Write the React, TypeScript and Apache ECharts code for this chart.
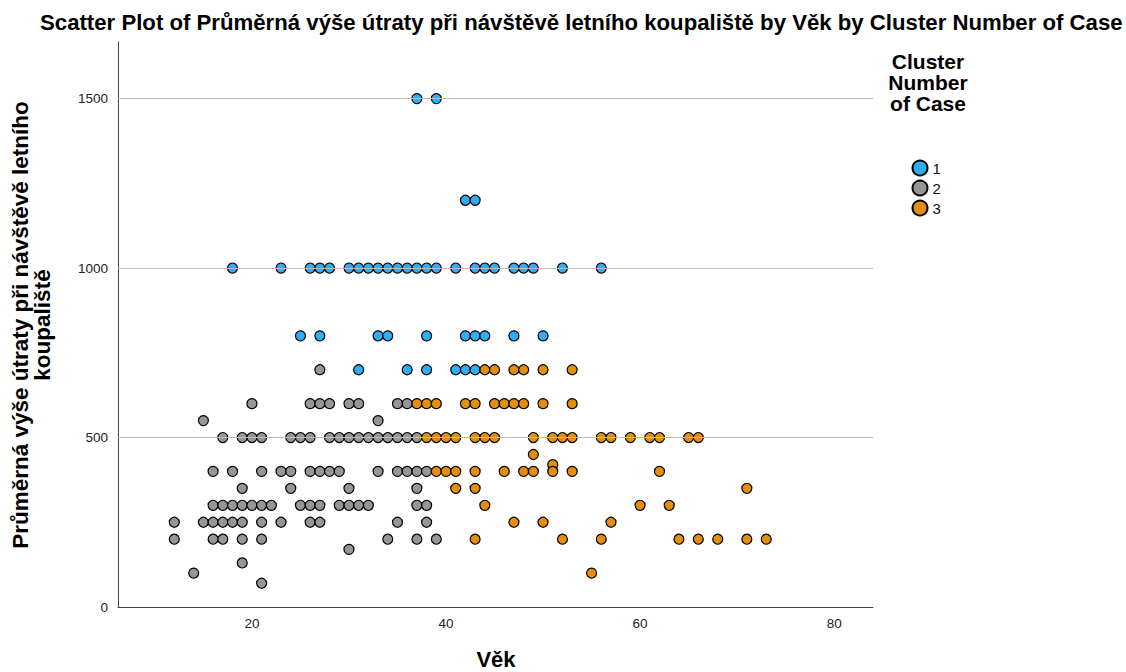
import React, { useEffect, useRef } from "react";
import * as echarts from "echarts";

// Cluster 1 (blue): [age, spending]
const cluster1: [number, number][] = [
  [37, 1500], [39, 1500],
  [42, 1200], [43, 1200],
  [18, 1000], [23, 1000], [26, 1000], [27, 1000], [28, 1000], [30, 1000], [31, 1000], [32, 1000],
  [33, 1000], [34, 1000], [35, 1000], [36, 1000], [37, 1000], [38, 1000], [39, 1000], [41, 1000],
  [43, 1000], [44, 1000], [45, 1000], [47, 1000], [48, 1000], [49, 1000], [52, 1000], [56, 1000],
  [25, 800], [27, 800], [33, 800], [34, 800], [38, 800], [42, 800], [43, 800], [44, 800], [47, 800], [50, 800],
  [31, 700], [36, 700], [38, 700], [41, 700], [42, 700], [43, 700],
];

// Cluster 2 (grey)
const cluster2: [number, number][] = [
  [27, 700],
  [20, 600], [26, 600], [27, 600], [28, 600], [30, 600], [31, 600], [35, 600], [36, 600],
  [15, 550], [33, 550],
  [17, 500], [19, 500], [20, 500], [21, 500], [24, 500], [25, 500], [26, 500], [28, 500], [29, 500],
  [30, 500], [31, 500], [32, 500], [33, 500], [34, 500], [35, 500], [36, 500], [37, 500],
  [16, 400], [18, 400], [21, 400], [23, 400], [24, 400], [26, 400], [27, 400], [28, 400], [29, 400],
  [33, 400], [35, 400], [36, 400], [37, 400], [38, 400],
  [19, 350], [24, 350], [30, 350], [37, 350],
  [16, 300], [17, 300], [18, 300], [19, 300], [20, 300], [21, 300], [22, 300], [25, 300], [26, 300],
  [27, 300], [29, 300], [30, 300], [31, 300], [32, 300], [37, 300], [38, 300],
  [12, 250], [15, 250], [16, 250], [17, 250], [18, 250], [19, 250], [21, 250], [23, 250], [26, 250],
  [27, 250], [35, 250], [38, 250],
  [12, 200], [16, 200], [17, 200], [19, 200], [21, 200], [34, 200], [37, 200], [39, 200],
  [30, 170], [19, 130], [14, 100], [21, 70],
];

// Cluster 3 (orange)
const cluster3: [number, number][] = [
  [44, 700], [45, 700], [47, 700], [48, 700], [50, 700], [53, 700],
  [37, 600], [38, 600], [39, 600], [42, 600], [43, 600], [45, 600], [46, 600], [47, 600], [48, 600],
  [50, 600], [53, 600],
  [38, 500], [39, 500], [40, 500], [41, 500], [43, 500], [44, 500], [45, 500], [49, 500], [51, 500],
  [52, 500], [53, 500], [56, 500], [57, 500], [59, 500], [61, 500], [62, 500], [65, 500], [66, 500],
  [49, 450], [51, 420],
  [39, 400], [40, 400], [41, 400], [43, 400], [46, 400], [48, 400], [49, 400], [51, 400], [53, 400], [62, 400],
  [41, 350], [43, 350], [71, 350],
  [44, 300], [60, 300], [63, 300],
  [47, 250], [50, 250], [57, 250],
  [43, 200], [52, 200], [56, 200], [64, 200], [66, 200], [68, 200], [71, 200], [73, 200],
  [55, 100],
];

const clusterNames = ["1", "2", "3"];
const clusterColors = ["#2eaef5", "#969696", "#e38f0d"];
const xTickValues = [20, 40, 60, 80];
const yTickValues = [0, 500, 1000, 1500];
const yGridValues = [500, 1000, 1500];

const FONT = "'Liberation Sans', Arial, Helvetica, sans-serif";

export default function App() {
  const ref = useRef<HTMLDivElement>(null);

  useEffect(() => {
    if (!ref.current) return;
    const chart = echarts.init(ref.current, undefined, { renderer: "svg" });
    const allData = [cluster1, cluster2, cluster3];

    const scatterSeries = allData.map((d, i) => ({
      name: clusterNames[i],
      type: "scatter",
      data: d,
      symbol: "circle",
      symbolSize: 10,
      z: 3,
      itemStyle: {
        color: clusterColors[i],
        borderColor: "#000",
        borderWidth: 1.2,
        opacity: 1,
      },
    }));

    chart.setOption({
      animation: false,
      backgroundColor: "#fff",
      textStyle: { fontFamily: FONT },
      grid: { left: 118, top: 42, right: 253, bottom: 65 },
      xAxis: {
        type: "value",
        min: 6.2,
        max: 84,
        splitLine: { show: false },
        axisTick: { show: false },
        axisLine: { show: true, lineStyle: { color: "#444", width: 1 } },
        axisLabel: {
          customValues: xTickValues,
          formatter: (v: number) => String(v),
          color: "#222",
          fontSize: 13.5,
          margin: 9,
          fontFamily: FONT,
        },
      },
      yAxis: {
        type: "value",
        min: 0,
        max: 1667,
        splitLine: { show: false },
        axisTick: { show: false },
        axisLine: { show: true, lineStyle: { color: "#444", width: 1 } },
        axisLabel: {
          customValues: yTickValues,
          formatter: (v: number) => String(v),
          color: "#222",
          fontSize: 13.5,
          margin: 10,
          fontFamily: FONT,
        },
      },
      legend: {
        data: clusterNames,
        orient: "vertical",
        left: 911.5,
        top: 159.5,
        padding: 0,
        itemWidth: 15,
        itemHeight: 15,
        itemGap: 3,
        icon: "circle",
        textStyle: { fontSize: 15, lineHeight: 15, color: "#111", fontFamily: FONT },
        selectedMode: false,
      },
      graphic: [
        {
          type: "text",
          x: 40,
          y: 22,
          style: {
            text: "Scatter Plot of Průměrná výše útraty při návštěvě letního koupaliště by Věk by Cluster Number of Case",
            font: `bold 22.2px ${FONT}`,
            fill: "#000",
            textAlign: "left",
            textVerticalAlign: "middle",
          },
        },
        {
          type: "text",
          x: 928,
          y: 82,
          style: {
            text: "Cluster\nNumber\nof Case",
            font: `bold 21px ${FONT}`,
            lineHeight: 21,
            fill: "#000",
            textAlign: "center",
            textVerticalAlign: "middle",
          },
        },
        {
          type: "text",
          x: 31,
          y: 325,
          rotation: Math.PI / 2,
          style: {
            text: "Průměrná výše útraty při návštěvě letního\nkoupaliště",
            font: `bold 22.5px ${FONT}`,
            lineHeight: 22,
            fill: "#000",
            textAlign: "center",
            textVerticalAlign: "middle",
          },
        },
        {
          type: "text",
          x: 496,
          y: 659,
          style: {
            text: "Věk",
            font: `bold 22px ${FONT}`,
            fill: "#000",
            textAlign: "center",
            textVerticalAlign: "middle",
          },
        },
      ],
      series: [
        {
          name: "grid",
          type: "line",
          data: [],
          z: 1,
          silent: true,
          markLine: {
            silent: true,
            symbol: ["none", "none"],
            label: { show: false },
            lineStyle: { color: "#bdbdbd", type: "solid", width: 1 },
            data: yGridValues.map((v) => ({ yAxis: v })),
          },
        },
        ...scatterSeries,
      ],
    });

    return () => chart.dispose();
  }, []);

  return (
    <div
      ref={ref}
      style={{ position: "fixed", left: 0, top: 0, width: 1126, height: 672 }}
    />
  );
}
